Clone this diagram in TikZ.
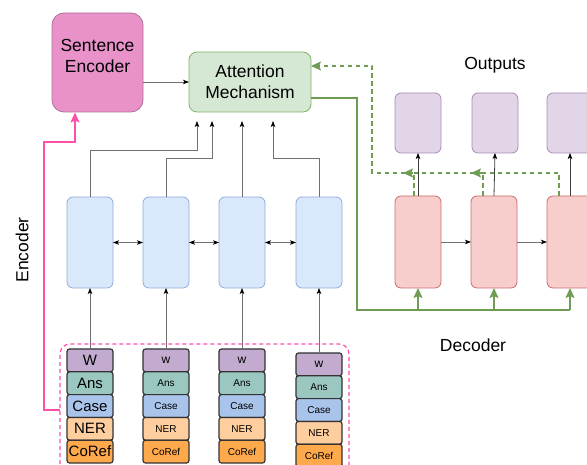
\documentclass[tikz,border=0pt]{standalone}
\usepackage{fontspec}
\setmainfont{Liberation Sans}
\usetikzlibrary{arrows.meta,positioning}
\definecolor{sefill}{HTML}{E892C9}
\definecolor{sedraw}{HTML}{B0709A}
\definecolor{gfill}{HTML}{D5E8D4}
\definecolor{gdraw}{HTML}{82B366}
\definecolor{gline}{HTML}{6F9C55}
\definecolor{bfill}{HTML}{DAE8FC}
\definecolor{bdraw}{HTML}{8EADD8}
\definecolor{rfill}{HTML}{F8CECC}
\definecolor{rdraw}{HTML}{C86C69}
\definecolor{pfill}{HTML}{E1D5E7}
\definecolor{pdraw}{HTML}{A88BB8}
\definecolor{cW}{HTML}{C3ABD0}
\definecolor{cAns}{HTML}{9AC7BF}
\definecolor{cCase}{HTML}{A9C4EB}
\definecolor{cNER}{HTML}{FFCE9F}
\definecolor{cCoRef}{HTML}{FFA94D}
\definecolor{pink}{HTML}{FF4FA7}
\definecolor{conn}{HTML}{707070}
\tikzset{
  every node/.style={inner sep=0pt, outer sep=0pt},
  sebox/.style={draw=sedraw, fill=sefill, rounded corners=12pt, line width=0.8pt, minimum width=91pt, minimum height=99pt},
  attbox/.style={draw=gdraw, fill=gfill, rounded corners=8pt, line width=0.8pt, minimum width=122pt, minimum height=60pt, align=center, font=\fontsize{17.5}{21}\selectfont},
  bluebox/.style={draw=bdraw, fill=bfill, rounded corners=6pt, line width=0.8pt, minimum width=46pt, minimum height=91pt},
  redbox/.style={draw=rdraw, fill=rfill, rounded corners=6pt, line width=0.8pt, minimum width=46pt, minimum height=92pt},
  purbox/.style={draw=pdraw, fill=pfill, rounded corners=6pt, line width=0.8pt, minimum width=46pt, minimum height=60pt},
  cell/.style={draw=black!80, line width=1.2pt, rounded corners=2.5pt, minimum width=46pt, minimum height=22.8pt},
  bigcell/.style={cell, font=\fontsize{15}{17}\selectfont},
  smallcell/.style={cell, font=\fontsize{10}{12}\selectfont},
  wcell/.style={cell, font=\fontsize{12}{14}\selectfont},
  lbl/.style={font=\fontsize{17.5}{21}\selectfont, align=center},
  conarrow/.style={draw=conn, line width=0.9pt, -{Stealth[length=6pt, width=4.5pt, inset=1.5pt, color=black]}},
  dblarrow/.style={draw=conn, line width=0.9pt, {Stealth[length=6pt, width=4.5pt, inset=1.5pt, color=black]}-{Stealth[length=6pt, width=4.5pt, inset=1.5pt, color=black]}},
  garrow/.style={draw=gline, line width=1.6pt, -{Stealth[length=10pt, width=9pt, inset=2pt]}},
  gline/.style={draw=gline, line width=1.6pt},
  gdash/.style={draw=gline, line width=1.6pt, dash pattern=on 4.5pt off 3.5pt, -{Stealth[length=10pt, width=9pt, inset=2pt]}},
}
\begin{document}
\begin{tikzpicture}[x=1pt,y=-1pt]
\useasboundingbox (0,0) rectangle (587,465);
% Sentence encoder
\node[sebox] (se) at (97.5,62.5) {};
\node[lbl] (setext) at (97.5,56) {Sentence\\Encoder};
% Attention
\node[attbox] (att) at (250,82) {Attention\\Mechanism};
\draw[conarrow] (se.east |- 0,82) -- (att.west |- 0,82);
% Blue encoder boxes
\foreach \i/\x in {1/90,2/166,3/242,4/319} {
  \node[bluebox] (b\i) at (\x,242.5) {};
}
\draw[dblarrow] (b1.east) -- (b2.west);
\draw[dblarrow] (b2.east) -- (b3.west);
\draw[dblarrow] (b3.east) -- (b4.west);
% connectors to attention
\coordinate (a1) at (197,121);
\coordinate (a2) at (212,121);
\coordinate (a3) at (242,121);
\coordinate (a4) at (273,121);
\draw[conarrow] (b1.north) |- (197,150) -- (a1);
\draw[conarrow] (b2.north) |- (212,158) -- (a2);
\draw[conarrow] (b3.north) -- (a3);
\draw[conarrow] (b4.north) |- (273,158) -- (a4);
% Feature stacks
\foreach \n/\nm in {0/W,1/Ans,2/Case,3/NER,4/CoRef} {
  \node[bigcell, fill=c\nm] (s1\nm) at (90,{360.4+22.8*\n}) {\nm};
}
\foreach \i/\x in {2/166,3/242} {
  \node[wcell, fill=cW] (s\i W) at (\x,360.4) {w};
  \foreach \n/\nm in {1/Ans,2/Case,3/NER,4/CoRef} {
    \node[smallcell, fill=c\nm] (s\i\nm) at (\x,{360.4+22.8*\n}) {\nm};
  }
}
\node[wcell, fill=cW] (s4W) at (319,364.4) {w};
\foreach \n/\nm in {1/Ans,2/Case,3/NER,4/CoRef} {
  \node[smallcell, fill=c\nm] (s4\nm) at (319,{364.4+22.8*\n}) {\nm};
}
\foreach \i in {1,2,3,4} {
  \draw[conarrow] (s\i W.north) -- (b\i.south);
}
% pink dashed box
\draw[pink, line width=1.2pt, dash pattern=on 4pt off 3pt, rounded corners=10pt] (60,478) -- (60,344) -- (349,344) -- (349,478);
\coordinate (pk) at (60,410);
\draw[pink, line width=1.6pt, -{Stealth[length=10pt, width=9pt, inset=2pt]}] (pk) -- (44,410) -- (44,142) -- (75,142) -- (75,112.5);
\node[lbl, rotate=90] (enc) at (22,250) {Encoder};
% Decoder
\foreach \i/\x in {1/418,2/494,3/570} {
  \node[redbox] (r\i) at (\x,242) {};
}
\foreach \i/\x in {1/418,2/495,3/570} {
  \node[purbox] (p\i) at (\x,123) {};
}
\draw[conarrow] (r1.east) -- (r2.west);
\draw[conarrow] (r2.east) -- (r3.west);
\foreach \i in {1,2,3} {
  \draw[draw=black!75, line width=0.8pt, -{Stealth[length=6pt, width=4.5pt, inset=1.5pt, color=black]}] (r\i.north) -- (p\i.south);
}
% green solid from attention
\draw[gline] (att.east |- 0,98) -- (357,98) -- (357,310) -- (r3.south |- 0,310);
\foreach \i in {1,2,3} {
  \draw[garrow] (r\i.south |- 0,310) -- (r\i.south);
}
% green dashed feedback
\draw[gdash] (414,196) -- (414,173) -- (372,173) -- (372,66) -- (att.east |- 0,66);
\draw[gdash] (483,196) -- (483,173) -- (403,173);
\draw[gdash] (559,196) -- (559,173) -- (471,173);
\node[lbl] (outl) at (495,65) {Outputs};
\node[lbl] (decl) at (473,345) {Decoder};
\end{tikzpicture}
\end{document}
